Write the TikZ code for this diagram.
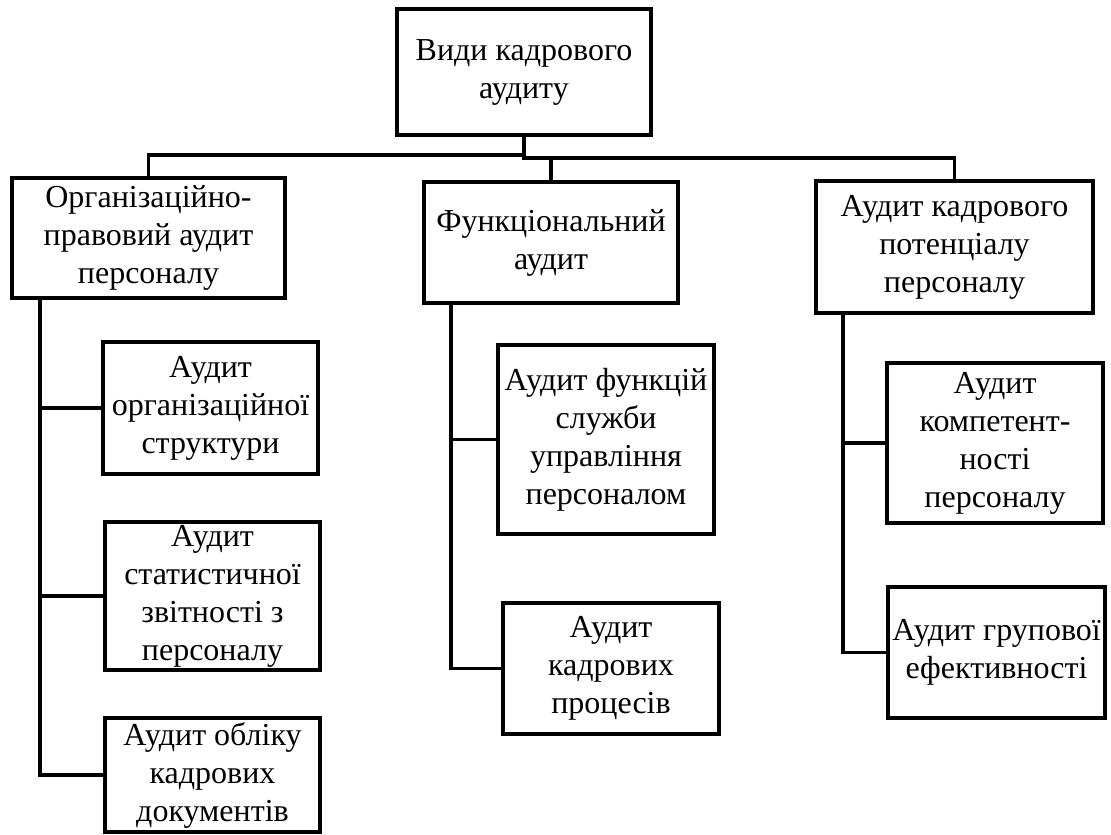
\documentclass[tikz,border=0pt]{standalone}
\usepackage{fontspec}
\setmainfont{Liberation Serif}
\usepackage{tikz}
\tikzstyle{box} = [draw,line width=1.6pt,inner sep=0pt,align=center,font=\fontsize{16}{19}\selectfont]
\tikzstyle{link} = [line width=1.6pt]

\begin{document}
\begin{tikzpicture}[x=0.5pt,y=-0.5pt]
\useasboundingbox (0,0) rectangle (1111,834);
% корінь
\node[box,minimum width=127pt,minimum height=63pt] (vydy) at (524,72) {Види кадрового\\аудиту};
% другий рівень
\node[box,minimum width=136.5pt,minimum height=60pt] (org) at (148.5,238) {Організаційно-\\правовий аудит\\персоналу};
\node[box,minimum width=127pt,minimum height=60.5pt] (func) at (551,242.5) {Функціональний\\аудит};
\node[box,minimum width=138.5pt,minimum height=66pt] (pot) at (954.5,247) {Аудит кадрового\\потенціалу\\персоналу};
% третій рівень
\node[box,minimum width=107.5pt,minimum height=66pt] (org1) at (210.5,408) {Аудит\\організаційної\\структури};
\node[box,minimum width=107.5pt,minimum height=74pt] (org2) at (212.5,596) {Аудит\\статистичної\\звітності з\\персоналу};
\node[box,minimum width=107.5pt,minimum height=57pt] (org3) at (212.5,775) {Аудит обліку\\кадрових\\документів};
\node[box,minimum width=108pt,minimum height=94.5pt] (func1) at (606,439.5) {Аудит функцій\\служби\\управління\\персоналом};
\node[box,minimum width=108pt,minimum height=65.5pt] (func2) at (611,668.5) {Аудит\\кадрових\\процесів};
\node[box,minimum width=108pt,minimum height=80pt] (pot1) at (995,443) {Аудит\\компетент-\\ності\\персоналу};
\node[box,minimum width=108.5pt,minimum height=65.5pt] (pot2) at (996.5,652.5) {Аудит групової\\ефективності};

% шина під коренем
\coordinate (busL) at (524,155);
\coordinate (busR) at (524,158);
\draw[link] (vydy.south) -- (busL) -| (org.north);
\draw[link] (busL) -- (busR) -| (pot.north);
\draw[link] (busR -| func.north) -- (func.north);

% бічні лінії
\coordinate (spO) at (40,0);
\coordinate (spF) at (451,0);
\coordinate (spP) at (843,0);
\draw[link] (org.south -| spO) |- (org3.west);
\draw[link] (spO |- org1.west) -- (org1.west);
\draw[link] (spO |- org2.west) -- (org2.west);
\draw[link] (func.south -| spF) |- (func2.west);
\draw[link] (spF |- func1.west) -- (func1.west);
\draw[link] (pot.south -| spP) |- (pot2.west);
\draw[link] (spP |- pot1.west) -- (pot1.west);
\end{tikzpicture}
\end{document}
